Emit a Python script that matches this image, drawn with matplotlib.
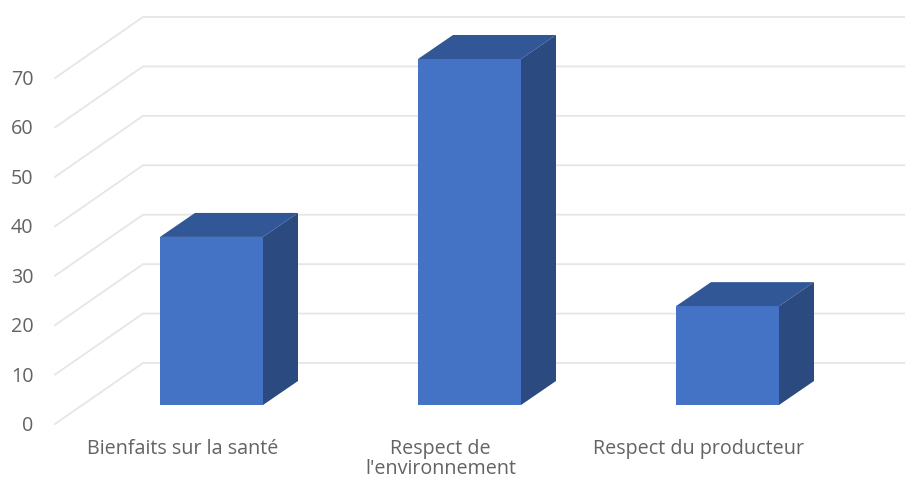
import matplotlib
matplotlib.use("Agg")
import matplotlib.pyplot as plt
from matplotlib.patches import Polygon

categories = ["Bienfaits sur la santé", "Respect de\nl'environnement", "Respect du producteur"]
values = [34, 70, 20]
y_ticks = [0, 10, 20, 30, 40, 50, 60, 70]

W, H = 905, 479
PX_X = 258.0      # pixels per category
PX_Y = 4.943      # pixels per value unit
X0, Y0 = 211.5, 405.0  # pixel of category 0, value 0 at bar front
BAR_W = 103 / PX_X
DX, DY = 35 / PX_X, 24 / PX_Y            # bar depth
WALL_Y = (405 - 363) / PX_Y              # back wall offset
WALL_X = (143 - X0) / PX_X
FRONT_X = (55 - X0) / PX_X
FRONT_Y = (405 - 424) / PX_Y

FRONT, TOP, SIDE = "#4472c4", "#325796", "#2a4a80"
GRID = "#e6e6e6"
TEXT = "#636363"

plt.rcParams["font.family"] = ["Open Sans", "DejaVu Sans"]
fig = plt.figure(figsize=(W / 100, H / 100), dpi=100, facecolor="white")
ax = fig.add_axes([0, 0, 1, 1])
ax.set_xlim((0 - X0) / PX_X, (W - X0) / PX_X)
ax.set_ylim((Y0 - H) / PX_Y, Y0 / PX_Y)
ax.axis("off")

for v in y_ticks:
    ax.plot([FRONT_X, WALL_X, ax.get_xlim()[1]],
            [v + FRONT_Y, v + WALL_Y, v + WALL_Y],
            color=GRID, lw=1.3, solid_joinstyle="miter", zorder=1)
    ax.text(FRONT_X - 0.083, v + FRONT_Y - 0.4, str(v), ha="right", va="center",
            color=TEXT, fontsize=14.2)

for i, (name, v) in enumerate(zip(categories, values)):
    l, r = i - BAR_W / 2, i + BAR_W / 2
    ax.add_patch(Polygon([(l, 0), (r, 0), (r, v), (l, v)], fc=FRONT, ec="none", zorder=4))
    ax.add_patch(Polygon([(l, v), (r, v), (r + DX, v + DY), (l + DX, v + DY)], fc=TOP, ec="none", zorder=3))
    ax.add_patch(Polygon([(r, 0), (r + DX, DY), (r + DX, v + DY), (r, v)], fc=SIDE, ec="none", zorder=3))
    ax.text(i - 0.112, -6.8, name, ha="center", va="top",
            color=TEXT, fontsize=14.2, linespacing=1.05)

fig.savefig("out.png", dpi=100)
